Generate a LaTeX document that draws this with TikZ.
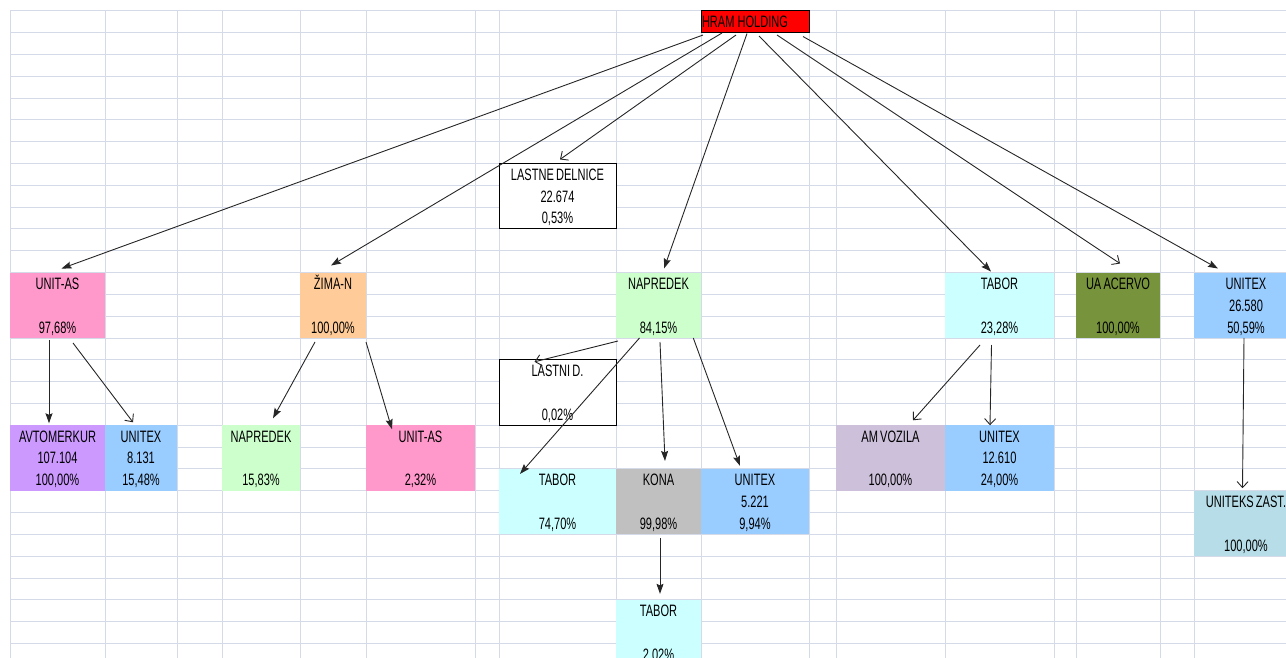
\documentclass[tikz,border=0pt]{standalone}
\usepackage{fontspec}
\setmainfont{Liberation Sans}[FakeStretch=0.67, WordSpace=0.7]
\usetikzlibrary{arrows.meta}
\definecolor{gridcol}{HTML}{D4DAE8}
\definecolor{cred}{HTML}{FF0000}
\definecolor{cpink}{HTML}{FF99CC}
\definecolor{corange}{HTML}{FFCC99}
\definecolor{cgreen}{HTML}{CCFFCC}
\definecolor{ccyan}{HTML}{CCFFFF}
\definecolor{colive}{HTML}{77933C}
\definecolor{cblue}{HTML}{99CCFF}
\definecolor{cpurple}{HTML}{CC99FF}
\definecolor{clavender}{HTML}{CCC0DA}
\definecolor{cgray}{HTML}{C0C0C0}
\definecolor{cteal}{HTML}{B7DEE8}
\def\cs{\rule[-5pt]{0pt}{21.82pt}}
\def\celltext#1#2#3{\cs #1\\\cs #2\\\cs #3}
\tikzset{
	gridline/.style={draw=gridcol, line width=0.9pt},
	cell/.style={anchor=north west, inner sep=0pt, outer sep=0pt, minimum height=65.46pt, align=center, font=\fontsize{16.5}{21.82}\selectfont},
	boxed/.style={cell, draw=black, fill=white, line width=0.9pt},
	fillarr/.style={draw=black!85, line width=0.9pt, -{Stealth[length=10pt, width=7pt, inset=1.5pt]}},
	openarr/.style={draw=black!85, line width=0.9pt, -{Straight Barb[length=6pt, width=11pt]}},
}

\begin{document}
\begin{tikzpicture}[x=1pt, y=-1pt]
		%%%%% START %%%%%
		\useasboundingbox (0, 0) rectangle (1286, 658);
		\clip (0, 0) rectangle (1286, 658);
		
		% sheet grid
		\foreach \i in {0,...,30}
			\draw[gridline] (10, {10.7+21.82*\i}) -- (1300, {10.7+21.82*\i});
		\foreach \x in {10, 105, 177, 222, 300, 366, 475, 499, 616, 701, 809, 836, 945, 1054, 1076, 1160, 1194}
			\draw[gridline] (\x, 10.7) -- (\x, 670);
		
		% top
		\node[cell, draw=black, fill=cred, line width=0.9pt, minimum height=21.82pt, text width=106pt, inner xsep=1pt, align=left] (hram) at (701, 10.7) {\mbox{\cs HRAM\hspace{3pt}HOLDING}};
		\node[boxed, minimum width=117pt] (lastne) at (499, 163.44) {\celltext{LASTNE DELNICE}{22.674}{0,53\%}};
		
		% first level
		\node[cell, fill=cpink, minimum width=95pt] (unitas) at (10, 272.54) {\celltext{UNIT-AS}{}{97,68\%}};
		\node[cell, fill=corange, minimum width=66pt] (zima) at (300, 272.54) {\celltext{ŽIMA-N}{}{100,00\%}};
		\node[cell, fill=cgreen, minimum width=85pt] (napredek) at (616, 272.54) {\celltext{NAPREDEK}{}{84,15\%}};
		\node[cell, fill=ccyan, minimum width=109pt] (taborA) at (945, 272.54) {\celltext{TABOR}{}{23,28\%}};
		\node[cell, fill=colive, minimum width=84pt] (acervo) at (1076, 272.54) {\celltext{UA ACERVO}{}{100,00\%}};
		\node[cell, fill=cblue, minimum width=104pt] (unitexA) at (1194, 272.54) {\celltext{UNITEX}{26.580}{50,59\%}};
		
		% second level
		\node[boxed, minimum width=117pt] (lastni) at (499, 359.82) {\celltext{LASTNI D.}{}{0,02\%}};
		\node[cell, fill=cpurple, minimum width=95pt] (avto) at (10, 425.28) {\celltext{AVTOMERKUR}{107.104}{100,00\%}};
		\node[cell, fill=cblue, minimum width=72pt] (unitexB) at (105, 425.28) {\celltext{UNITEX}{8.131}{15,48\%}};
		\node[cell, fill=cgreen, minimum width=78pt] (napredekB) at (222, 425.28) {\celltext{NAPREDEK}{}{15,83\%}};
		\node[cell, fill=cpink, minimum width=109pt] (unitasB) at (366, 425.28) {\celltext{UNIT-AS}{}{2,32\%}};
		\node[cell, fill=clavender, minimum width=109pt] (amvoz) at (836, 425.28) {\celltext{AM VOZILA}{}{100,00\%}};
		\node[cell, fill=cblue, minimum width=109pt] (unitexC) at (945, 425.28) {\celltext{UNITEX}{12.610}{24,00\%}};
		\node[cell, fill=ccyan, minimum width=117pt] (taborB) at (499, 468.92) {\celltext{TABOR}{}{74,70\%}};
		\node[cell, fill=cgray, minimum width=85pt] (kona) at (616, 468.92) {\celltext{KONA}{}{99,98\%}};
		\node[cell, fill=cblue, minimum width=108pt] (unitexD) at (701, 468.92) {\celltext{UNITEX}{5.221}{9,94\%}};
		\node[cell, fill=cteal, minimum width=104pt] (uniteks) at (1194, 490.74) {\celltext{UNITEKS ZAST.}{}{100,00\%}};
		
		% third level
		\node[cell, fill=ccyan, minimum width=85pt] (taborC) at (616, 599.84) {\celltext{TABOR}{}{2,02\%}};
		
		% arrows from the holding
		\draw[fillarr] ([xshift=2pt, yshift=-2.5pt]hram.south west) -- ([xshift=4pt, yshift=4pt]unitas.north);
		\draw[fillarr] ([xshift=21pt, yshift=-0.5pt]hram.south west) -- ([xshift=-2pt, yshift=7pt]zima.north);
		\draw[openarr] ([xshift=35pt, yshift=-2.5pt]hram.south west) -- ([xshift=2.5pt, yshift=4pt]lastne.north);
		\draw[fillarr] ([xshift=46pt, yshift=-1pt]hram.south west) -- ([xshift=5.5pt, yshift=4pt]napredek.north);
		\draw[fillarr] ([xshift=58pt, yshift=-3.5pt]hram.south west) -- ([xshift=-8.5pt, yshift=1pt]taborA.north);
		\draw[openarr] ([xshift=76pt, yshift=-2.5pt]hram.south west) -- ([xshift=2pt, yshift=9pt]acervo.north);
		\draw[fillarr] ([xshift=102pt, yshift=-4pt]hram.south west) -- ([xshift=24pt, yshift=4pt]unitexA.north west);
		
		% arrows below
		\draw[fillarr] ([xshift=-8.5pt, yshift=-2pt]unitas.south) -- ([xshift=-8.5pt, yshift=2pt]avto.north);
		\draw[openarr] ([xshift=15.5pt, yshift=-5pt]unitas.south) -- ([xshift=-8pt, yshift=3pt]unitexB.north);
		\draw[fillarr] ([xshift=-18pt, yshift=-4pt]zima.south) -- ([xshift=12pt, yshift=7pt]napredekB.north);
		\draw[fillarr] ([yshift=-4pt]zima.south east) -- ([xshift=26pt, yshift=-4pt]unitasB.north west);
		\draw[openarr] ([xshift=2pt, yshift=-3pt]napredek.south west) -- ([xshift=-23pt, yshift=-2pt]lastni.north);
		\draw[fillarr] ([xshift=-19pt]napredek.south) -- ([xshift=21pt, yshift=-5pt]taborB.north west);
		\draw[fillarr] ([xshift=1.5pt, yshift=-4pt]napredek.south) -- ([xshift=6.5pt, yshift=8pt]kona.north);
		\draw[fillarr] ([xshift=-7.7pt]napredek.south east) -- ([xshift=-15pt, yshift=3pt]unitexD.north);
		\draw[fillarr] ([xshift=1.5pt, yshift=-4pt]kona.south) -- ([xshift=1.5pt, yshift=6pt]taborC.north);
		\draw[openarr] ([xshift=-19.5pt, yshift=-7pt]taborA.south) -- ([xshift=22.5pt, yshift=5pt]amvoz.north);
		\draw[openarr] ([xshift=-8pt, yshift=-7pt]taborA.south) -- ([xshift=-9.5pt]unitexC.north);
		\draw[openarr] ([xshift=-2pt]unitexA.south) -- ([xshift=-3.5pt, yshift=2.5pt]uniteks.north);
		
		%%%%% END %%%%%
	\end{tikzpicture}
\end{document}
